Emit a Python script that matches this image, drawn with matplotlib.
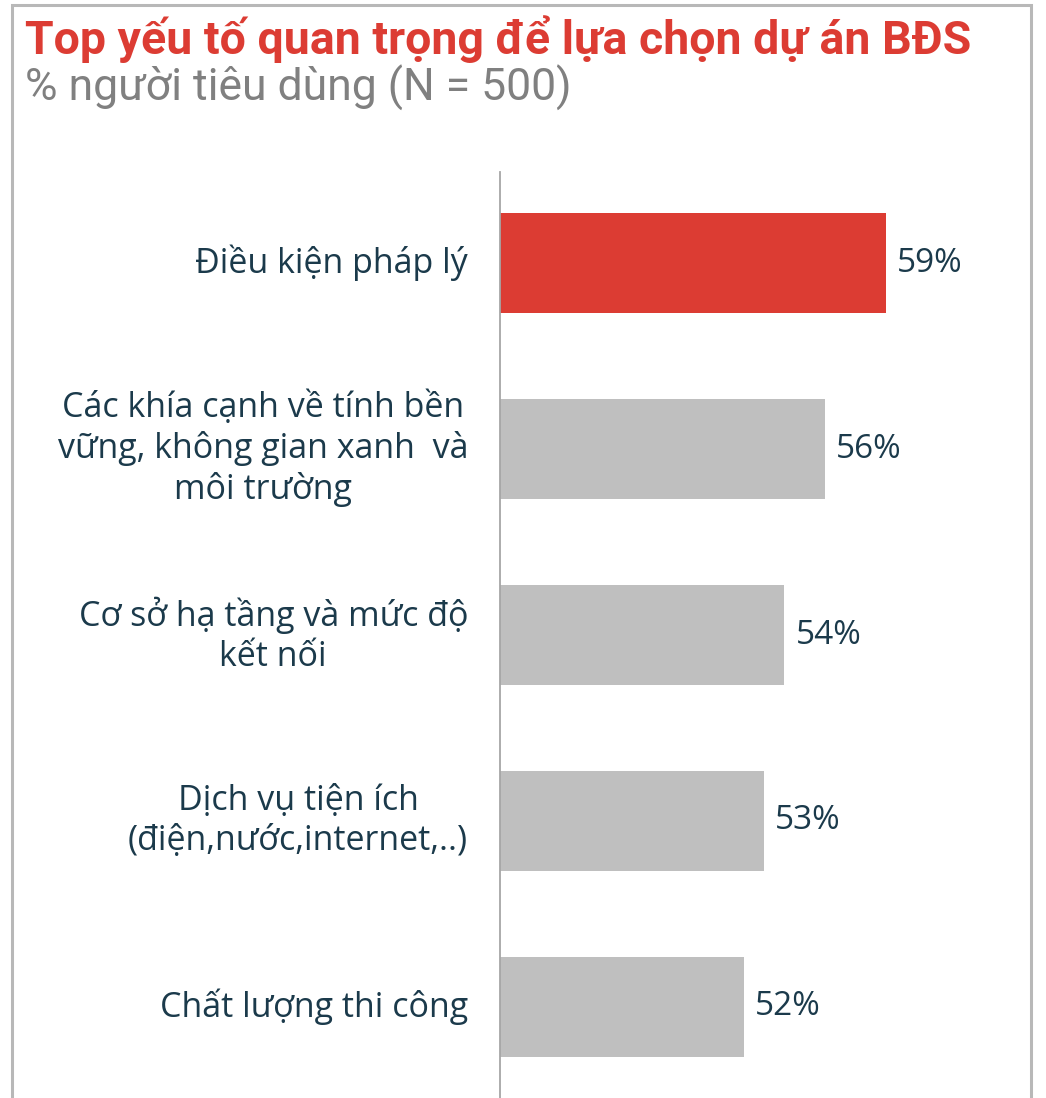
import matplotlib.pyplot as plt
from matplotlib.patches import Rectangle

# Data
categories = [
    "Điều kiện pháp lý",
    "Các khía cạnh về tính bền\nvững, không gian xanh  và\nmôi trường",
    "Cơ sở hạ tầng và mức độ\nkết nối",
    "Dịch vụ tiện ích\n(điện,nước,internet,..)",
    "Chất lượng thi công",
]
values = [59, 56, 54, 53, 52]
value_labels = ["59%", "56%", "54%", "53%", "52%"]
bar_colors = ["#dc3c33", "#bfbfbf", "#bfbfbf", "#bfbfbf", "#bfbfbf"]

title = "Top yếu tố quan trọng để lựa chọn dự án BĐS"
subtitle = "% người tiêu dùng (N = 500)"

TEXT_COLOR = "#1b3a4b"
plt.rcParams['font.family'] = ['Open Sans', 'DejaVu Sans']

fig = plt.figure(figsize=(10.46, 10.98), dpi=100)

# frame around the panel
fig.patches.append(Rectangle((12 / 1046, -0.05), (1031 - 12) / 1046, 1.05 - 5 / 1098,
                             transform=fig.transFigure, fill=False,
                             edgecolor="#b8b8b8", linewidth=2.2))

fig.text(25 / 1046, 1 - 39 / 1098, title, color="#dc3c33", fontsize=33.5,
         fontweight="bold", va="center", ha="left", family=['Roboto', 'DejaVu Sans'])
fig.text(25 / 1046, 1 - 88 / 1098, subtitle, color="#808080", fontsize=32,
         va="center", ha="left", family=['Roboto', 'DejaVu Sans'])

ax = fig.add_axes([500 / 1046, 0, 0.47, (1098 - 172) / 1098])
ypos = list(range(len(values)))
ax.barh(ypos, values, left=0, height=0.54, color=bar_colors)
ax.set_xlim(40, 64.2)
ax.set_ylim(4.49, -0.49)

for y, v, lab in zip(ypos, values, value_labels):
    ax.text(v + 0.55, y, lab, va="center", ha="left", fontsize=24, color=TEXT_COLOR)

for y, c in zip(ypos, categories):
    ax.text(-0.065, y, c, transform=ax.get_yaxis_transform(), ha="right", va="center",
            multialignment="center", fontsize=24.5, color=TEXT_COLOR, linespacing=1.22)

for s in ["top", "right", "bottom"]:
    ax.spines[s].set_visible(False)
ax.spines["left"].set_color("#a6a6a6")
ax.spines["left"].set_linewidth(1.3)
ax.set_xticks([])
ax.set_yticks([])

fig.savefig("out.png", dpi=100)
